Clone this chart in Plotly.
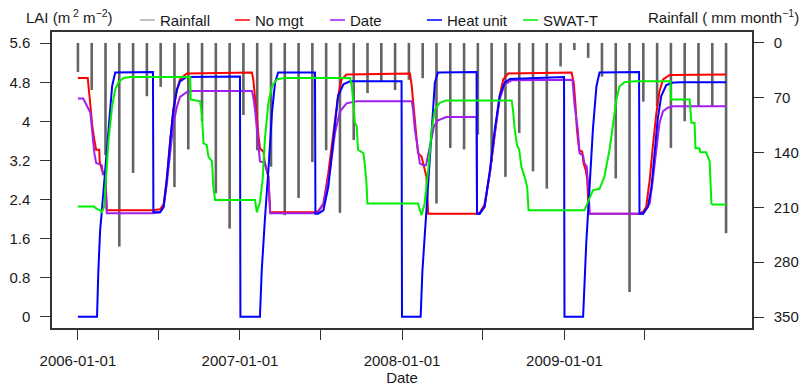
import pandas as pd
import plotly.graph_objects as go

START = pd.Timestamp("2006-01-01")

# Monthly rainfall (mm month-1), Jan 2006 .. Dec 2009
rain_mm = [37, 60, 143, 260, 166, 68, 56, 184, 136, 100, 192, 237,
           92, 137, 158, 220, 198, 152, 137, 217, 124, 64, 49, 60,
           47, 45, 205, 134, 136, 117, 152, 171, 115, 164, 186, 30,
           9, 19, 43, 173, 318, 75, 81, 134, 100, 81, 81, 243]

# LAI series: day offset since 2006-01-01 and LAI (m2 m-2)
nomgt_day = [0, 22, 28, 32, 37, 41, 48, 49, 54, 59, 62, 65, 167, 185, 193, 200, 208, 215, 223, 230, 245,
             392, 395, 399, 403, 406, 410, 418, 421, 425, 429, 433, 534, 541, 553, 564, 575, 586, 594, 605,
             748, 752, 755, 759, 763, 766, 774, 778, 781, 785, 789, 898, 905, 916, 928, 939, 950, 958, 969,
             1112, 1117, 1121, 1124, 1129, 1136, 1139, 1144, 1147, 1151, 1265, 1273, 1280, 1288, 1295, 1303,
             1310, 1318, 1333, 1460]
nomgt_lai = [4.89, 4.89, 4.34, 3.93, 3.62, 3.42, 3.42, 3.18, 3.0, 2.92, 2.92, 2.18, 2.18, 2.2, 2.3, 2.8, 3.6,
             4.24, 4.65, 4.86, 4.98,
             5.0, 4.86, 4.52, 4.1, 3.76, 3.45, 3.38, 3.14, 3.0, 2.87, 2.14, 2.14, 2.16, 2.32, 2.94, 3.69,
             4.52, 4.86, 4.96,
             4.98, 4.72, 4.41, 3.97, 3.62, 3.35, 3.28, 3.14, 3.0, 2.87, 2.11, 2.11, 2.13, 2.3, 2.94, 3.76,
             4.52, 4.86, 4.98,
             5.0, 4.79, 4.31, 3.83, 3.41, 3.38, 3.14, 3.0, 2.83, 2.11, 2.11, 2.15, 2.25, 2.8, 3.49, 4.17,
             4.62, 4.86, 4.95, 4.96]

date_day = [0, 12, 28, 34, 37, 41, 54, 56, 61, 65, 167, 185, 193, 200, 208, 215, 223, 230, 245, 253,
            392, 395, 399, 403, 406, 410, 421, 425, 429, 433, 534, 541, 553, 568, 579, 590, 605, 628,
            752, 755, 759, 766, 770, 778, 784, 793, 802, 811, 830, 898, 899, 905, 916, 928, 939, 950, 961,
            977, 1114, 1119, 1126, 1130, 1138, 1141, 1146, 1149, 1153, 1273, 1288, 1295, 1303, 1310, 1318,
            1329, 1340, 1460]
date_lai = [4.47, 4.47, 4.18, 3.62, 3.35, 3.15, 3.1, 2.92, 2.92, 2.12, 2.12, 2.14, 2.25, 2.7, 3.4, 3.95,
            4.3, 4.5, 4.6, 4.62,
            4.62, 4.5, 4.24, 3.83, 3.49, 3.18, 3.16, 3.0, 2.87, 2.12, 2.12, 2.14, 2.3, 3.0, 3.76, 4.2,
            4.37, 4.41,
            4.41, 4.24, 3.83, 3.42, 3.14, 3.1, 3.1, 3.5, 3.9, 4.02, 4.09, 4.09, 2.11, 2.11, 2.25, 2.94,
            3.76, 4.45, 4.76, 4.84,
            4.85, 4.31, 3.83, 3.35, 3.3, 3.14, 3.08, 2.73, 2.11, 2.11, 2.32, 2.8, 3.49, 3.97, 4.21, 4.28,
            4.31, 4.31]

heat_day = [0, 43, 46, 50, 54, 61, 69, 77, 84, 169, 170, 185, 193, 200, 208, 215, 223, 230, 245, 365, 366,
            410, 414, 418, 421, 429, 437, 444, 451, 534, 535, 541, 553, 564, 572, 579, 586, 598, 613, 729,
            730, 772, 774, 776, 781, 789, 797, 804, 811, 898, 899, 905, 916, 928, 939, 950, 961, 973, 1095,
            1096, 1138, 1141, 1145, 1153, 1160, 1168, 1175, 1264, 1265, 1273, 1284, 1292, 1299, 1306, 1314,
            1325, 1337, 1355, 1460]
heat_lai = [0, 0, 0.94, 1.77, 2.18, 2.94, 3.83, 4.72, 5.0, 5.01, 2.14, 2.14, 2.25, 2.8, 3.62, 4.24, 4.65,
            4.82, 4.91, 4.92, 0,
            0, 0.94, 1.42, 1.97, 3.0, 4.17, 4.79, 5.0, 5.0, 2.11, 2.11, 2.18, 2.66, 3.35, 4.04, 4.52, 4.76,
            4.82, 4.82,
            0, 0, 0.47, 0.94, 1.63, 2.73, 3.83, 4.79, 5.0, 5.01, 2.11, 2.11, 2.25, 3.0, 3.83, 4.52, 4.79,
            4.87, 4.91,
            0, 0, 0.67, 1.5, 2.73, 3.83, 4.72, 5.0, 5.01, 2.11, 2.11, 2.25, 2.66, 3.28, 4.04, 4.52,
            4.74, 4.79, 4.8, 4.8]

swat_day = [0, 35, 43, 50, 54, 59, 64, 69, 77, 84, 91, 103, 118, 253, 254, 275, 279, 283, 290, 294, 302,
            305, 309, 399, 403, 410, 416, 421, 429, 437, 448, 466, 613, 617, 620, 624, 628, 631, 643, 646,
            650, 652, 766, 774, 781, 789, 797, 804, 815, 830, 977, 980, 984, 989, 994, 999, 1006, 1012,
            1015, 1134, 1141, 1149, 1160, 1175, 1186, 1198, 1205, 1213, 1220, 1231, 1254, 1335, 1336, 1378,
            1382, 1389, 1391, 1400, 1402, 1415, 1423, 1427, 1429, 1460]
swat_lai = [2.26, 2.26, 2.21, 2.18, 2.14, 2.25, 2.94, 3.62, 4.31, 4.65, 4.8, 4.89, 4.91, 4.91, 4.45, 4.41,
            4.17, 3.55, 3.52, 3.28, 3.18,
            2.66, 2.39, 2.39, 2.14, 2.35, 2.8, 3.62, 4.38, 4.72, 4.86, 4.89, 4.89, 4.72, 4.41, 3.97, 3.9,
            3.42, 3.35, 3.14,
            2.73, 2.32, 2.32, 2.08, 2.32, 3.0, 3.83, 4.24, 4.38, 4.43, 4.43, 4.24, 3.83, 3.52, 3.42, 3.07,
            2.87, 2.66,
            2.18, 2.18, 2.18, 2.35, 2.59, 2.62, 2.87, 3.45, 3.9, 4.45, 4.72, 4.8, 4.82, 4.82, 4.45, 4.45,
            3.97, 3.97, 3.45, 3.45, 3.37, 3.37, 3.18, 2.32, 2.3, 2.3]

left_ticks = [0, 0.8, 1.6, 2.4, 3.2, 4, 4.8, 5.6]
left_ticktext = ["0", "0.8", "1.6", "2.4", "3.2", "4", "4.8", "5.6"]
right_ticks = [0, 70, 140, 210, 280, 350]
x_tickdates = ["2006-01-01", "2006-07-01", "2007-01-01", "2007-07-01",
               "2008-01-01", "2008-07-01", "2009-01-01", "2009-07-01"]
x_ticktext = ["2006-01-01", "", "2007-01-01", "", "2008-01-01", "", "2009-01-01", ""]


def to_dates(days):
    return [START + pd.Timedelta(days=d) for d in days]


rain_dates = pd.date_range("2006-01-01", "2009-12-31", periods=len(rain_mm))
rx, ry = [], []
for d, r in zip(rain_dates, rain_mm):
    rx += [d, d, None]
    ry += [0, r, None]

FONT = "Liberation Sans, Arial, sans-serif"
TXT = "#1a1a1a"
AX = "#333333"
FS = 15

fig = go.Figure()
fig.add_trace(go.Scatter(x=rx, y=ry, mode="lines", yaxis="y",
                         line=dict(color="#646464", width=2.6), name="Rainfall", showlegend=False))

series = [("No mgt", nomgt_day, nomgt_lai, "#ff0000"),
          ("Date", date_day, date_lai, "#a020f0"),
          ("Heat unit", heat_day, heat_lai, "#0000ff"),
          ("SWAT-T", swat_day, swat_lai, "#00ee00")]
for name, dd, vv, col in series:
    fig.add_trace(go.Scatter(x=to_dates(dd), y=vv, mode="lines", yaxis="y2",
                             line=dict(color=col, width=2), name=name, showlegend=False))

fig.update_layout(
    width=804, height=386,
    margin=dict(l=52, r=52, t=32, b=58),
    paper_bgcolor="white", plot_bgcolor="white",
    font=dict(family=FONT, size=FS, color=TXT),
    showlegend=False,
    xaxis=dict(type="date", range=["2005-11-03 14:00", "2010-02-27 10:00"],
               tickvals=x_tickdates, ticktext=x_ticktext, automargin=False,
               ticks="outside", ticklen=10, tickwidth=1.3, tickcolor=AX,
               showline=True, mirror=True, linecolor=AX, linewidth=1.5,
               showgrid=False, zeroline=False, ticklabelstandoff=8,
               title=dict(text="Date", standoff=4, font=dict(size=FS))),
    yaxis=dict(range=[364, -14], side="right", tickvals=right_ticks, automargin=False,
               ticks="outside", ticklen=10, tickwidth=1.3, tickcolor=AX,
               showline=True, linecolor=AX, linewidth=1.5,
               showgrid=False, zeroline=False, ticklabelstandoff=7),
    yaxis2=dict(range=[-0.23, 5.83], side="left", overlaying="y", automargin=False,
                tickvals=left_ticks, ticktext=left_ticktext,
                ticks="outside", ticklen=10, tickwidth=1.3, tickcolor=AX,
                showline=True, linecolor=AX, linewidth=1.5,
                showgrid=False, zeroline=False, ticklabelstandoff=7),
)

# axis titles at top
fig.add_annotation(xref="paper", yref="paper", x=-0.04, y=1.052, xanchor="left", yanchor="middle",
                   text="LAI (m<sup> 2</sup> m<sup>−2</sup>)", showarrow=False, font=dict(size=FS))
fig.add_annotation(xref="paper", yref="paper", x=1.07, y=1.052, xanchor="right", yanchor="middle",
                   text="Rainfall ( mm month<sup>−1</sup>)", showarrow=False, font=dict(size=FS))

# legend row
legend_items = [("Rainfall", "#aaaaaa", 0.1257), ("No mgt", "#ff0000", 0.2614),
                ("Date", "#a020f0", 0.3971), ("Heat unit", "#0000ff", 0.5357),
                ("SWAT-T", "#00ee00", 0.6729)]
for label, col, x0 in legend_items:
    fig.add_shape(type="line", xref="paper", yref="paper", x0=x0, x1=x0 + 0.0214,
                  y0=1.0405, y1=1.0405, line=dict(color=col, width=1.5))
    fig.add_annotation(xref="paper", yref="paper", x=x0 + 0.026, y=1.0405, xanchor="left",
                       yanchor="middle", text=label, showarrow=False, font=dict(size=FS))

fig.write_html("out.html")
